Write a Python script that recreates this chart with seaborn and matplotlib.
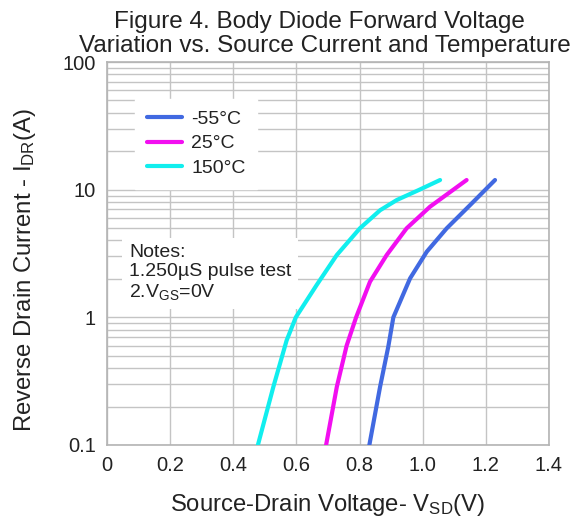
import matplotlib
matplotlib.use("Agg")
import matplotlib.pyplot as plt
import seaborn as sns
import pandas as pd
from matplotlib.ticker import FixedLocator, FixedFormatter, LogLocator, NullFormatter

# Measured forward characteristics, one series per junction temperature
vsd_m55 = [0.831, 0.865, 0.891, 0.907, 0.935, 0.960, 1.013, 1.076, 1.150, 1.229]
idr_m55 = [0.10, 0.286, 0.59, 1.00, 1.45, 2.02, 3.27, 4.98, 7.57, 11.9]

vsd_25 = [0.694, 0.728, 0.759, 0.789, 0.833, 0.886, 0.949, 1.023, 1.139]
idr_25 = [0.10, 0.286, 0.60, 1.00, 1.90, 3.08, 4.98, 7.35, 11.9]

vsd_150 = [0.478, 0.527, 0.569, 0.598, 0.664, 0.728, 0.801, 0.865, 0.918, 0.990, 1.055]
idr_150 = [0.10, 0.286, 0.66, 1.00, 1.79, 3.08, 4.98, 6.90, 8.30, 10.0, 11.9]

temps = ["-55°C", "25°C", "150°C"]
colors = ["#4169e1", "#f20ff0", "#11eeee"]

x_ticks = [0, 0.2, 0.4, 0.6, 0.8, 1.0, 1.2, 1.4]
x_tick_labels = ["0", "0.2", "0.4", "0.6", "0.8", "1.0", "1.2", "1.4"]
y_ticks = [0.1, 1, 10, 100]
y_tick_labels = ["0.1", "1", "10", "100"]

frames = []
for t, v, i in zip(temps, [vsd_m55, vsd_25, vsd_150], [idr_m55, idr_25, idr_150]):
    frames.append(pd.DataFrame({"Vsd": v, "Idr": i, "T": t}))
df = pd.concat(frames, ignore_index=True)

sns.set_theme(style="white")
plt.rcParams["font.family"] = ["Liberation Sans", "DejaVu Sans"]
plt.rcParams["mathtext.default"] = "regular"
txt = "#222222"

fig = plt.figure(figsize=(5.87, 5.20), dpi=100)
ax = fig.add_axes([107 / 587, 1 - 445 / 520, 442 / 587, 383 / 520])

sns.lineplot(data=df, x="Vsd", y="Idr", hue="T", hue_order=temps,
             palette=colors, linewidth=3.0, sort=False, estimator=None,
             ax=ax, zorder=4)
for ln in ax.get_lines():
    ln.set_solid_joinstyle("round")
    ln.set_solid_capstyle("round")

ax.set_yscale("log")
ax.set_xlim(0, 1.4)
ax.set_ylim(0.1, 100)

ax.xaxis.set_major_locator(FixedLocator(x_ticks))
ax.xaxis.set_major_formatter(FixedFormatter(x_tick_labels))
ax.yaxis.set_major_locator(FixedLocator(y_ticks))
ax.yaxis.set_major_formatter(FixedFormatter(y_tick_labels))
ax.yaxis.set_minor_locator(LogLocator(base=10, subs=range(2, 10)))
ax.yaxis.set_minor_formatter(NullFormatter())

ax.set_axisbelow(True)
ax.grid(True, which="major", axis="both", color="#c4c4c4", linewidth=1.0)
ax.grid(True, which="minor", axis="y", color="#c4c4c4", linewidth=1.0)
for s in ax.spines.values():
    s.set_color("#b4b4b4")
    s.set_linewidth(1.2)

ax.tick_params(axis="both", which="both", length=0, labelsize=14.5,
               labelcolor=txt, pad=8)

ax.set_xlabel("Source-Drain Voltage- V$_{SD}$(V)", fontsize=17.2,
              color=txt, labelpad=12)
ax.set_ylabel("Reverse Drain Current - I$_{DR}$(A)", fontsize=17.2,
              color=txt)
ax.yaxis.set_label_coords(-0.155, 0.457)

fig.text(0.545, 0.946, "Figure 4. Body Diode Forward Voltage", ha="center",
         va="baseline", fontsize=17.5, color=txt)
fig.text(0.554, 0.900, "Variation vs. Source Current and Temperature",
         ha="center", va="baseline", fontsize=17.5, color=txt)

leg = ax.legend(loc="upper left", bbox_to_anchor=(0.063, 0.904),
                borderaxespad=0, fontsize=14, frameon=True, fancybox=False,
                handlelength=1.85, handletextpad=0.45, labelspacing=0.35,
                borderpad=0.6, title=None)
leg.get_frame().set_facecolor("white")
leg.get_frame().set_edgecolor("white")
leg.get_frame().set_alpha(1.0)
for t in leg.get_texts():
    t.set_color(txt)
leg.set_zorder(5)

ax.text(0.05, 0.525, "Notes:\n1.250µS pulse test\n2.V$_{GS}$=0V",
        transform=ax.transAxes, ha="left", va="top", fontsize=14,
        color=txt, linespacing=1.15, zorder=3,
        bbox=dict(facecolor="white", edgecolor="none", pad=5))

fig.savefig("out.png", dpi=100, facecolor="white")
